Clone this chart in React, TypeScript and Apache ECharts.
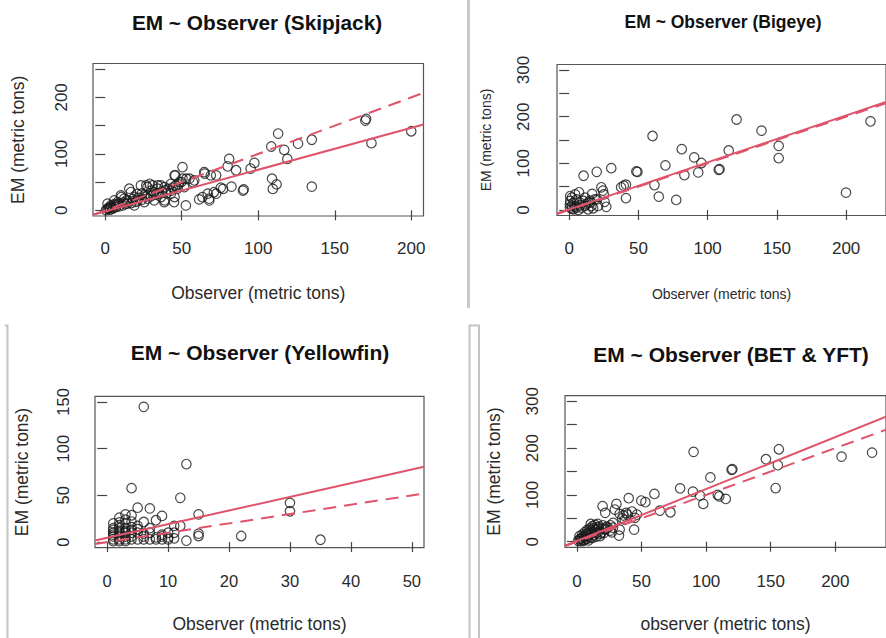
import React, { useEffect, useRef } from "react";
import * as echarts from "echarts";

const FONT = '"Liberation Sans", Arial, Helvetica, sans-serif';
const RED = "#DF536B";

// ---- Skipjack ----
const skjObs = [113, 108.5, 117, 126, 135, 119, 170, 170.5, 174, 200, 135, 109, 112, 109.5, 97.5, 95, 81, 80, 85.5, 90, 90.5, 82.5, 75.5, 72.5, 65, 72.5, 67, 63.5, 68, 71, 77, 64.7, 69, 61.4, 67.9,
  50.5, 45.8, 50.5, 55, 58.2, 53, 57.3, 49.7, 15.7, 23.3, 27.6, 31, 36.4, 39.6, 42.9, 47.3, 51.6, 32, 25.5, 19, 12.4, 5.9, 1.5, 3.7, 8, 14.6, 21.1, 25.5, 32, 38.6, 45, 52.7, 36.4, 27.6, 16.8, 10.2, 1.5, 4.8, 0.5, 7, 11.4, 19, 34.2, 42.9, 48.4, 21, 26.8, 29, 34.4, 38.8, 45.3, 45.3, 38.8, 10.5, 4, 1.7, 6, 2.5, 3, 5, 8, 9, 12, 13, 15, 17, 18, 20, 22, 24, 26, 28, 30, 33, 35, 37, 40, 41, 44, 46, 48, 43, 30, 24, 14, 9, 6, 3];
const skjEM = [136, 113, 107, 118, 125, 91, 159, 162, 119, 140, 42, 56, 46, 38, 84, 74, 91, 78, 71, 35, 37, 42, 40, 62, 65, 29.5, 29.5, 23.5, 17.5, 32, 38, 67.7, 62, 19.4, 20.6,
  76.6, 61.8, 56, 56, 53, 56, 50, 50, 38.3, 44.2, 41.2, 44.2, 44.2, 35.3, 29.5, 38.3, 41.2, 32.4, 26.5, 23.6, 20.6, 17.7, 11.8, 8.8, 14.7, 11.8, 17.7, 14.7, 17.7, 14.7, 14.7, 8.8, 23.6, 20.6, 32.4, 26.5, 2.9, 2.9, 0.5, 5.9, 8.8, 8.8, 38.3, 47, 50, 29, 44, 47, 44, 41, 62, 23.6, 17.7, 23.6, 6, 3, 8.8, 5, 1, 4, 10, 7, 14, 11, 16, 13, 20, 15, 22, 19, 24, 27, 25, 28, 30, 33, 30, 38, 40, 44, 46, 35, 35, 30, 18, 12, 11, 4];
const skjFit = [-2, 0.74];
const skjXTicks = [0, 50, 100, 150, 200];
const skjYTicks = [0, 50, 100, 150, 200, 250];
const skjYLabels = [0, 100, 200];

// ---- Bigeye ----
const betObs = [120.9, 138.9, 217.6, 60.2, 81.3, 90.3, 95.5, 115.2, 151.3, 151.3, 69.5, 49.3, 48.5, 108.6, 108, 83.2, 93.2, 61.6, 64.7, 77.3, 199.9, 10.4, 19.9, 30.4, 39.4, 41, 37.5, 41, 23.2, 24.4, 16.6, 7.1, 26.8, 25.6, 17.3, 4.3, 0.7, 1.9, 5.4, 11.4, 13.7, 9, 0.5, 3.1, 6.6, 11.4, 18.5, 20.9, 13.7, 0.7, 4.3, 0.5, 1.9, 3.1, 7.8, 5.4, 16.1, 10.2, 2, 8, 12, 15, 25, 15.5, 20.2];
const betEM = [194, 170, 190, 158.6, 130.3, 112.6, 100.6, 127.5, 137.4, 111.3, 95.6, 81.5, 82.5, 87.4, 86, 74.7, 80.4, 53.3, 28.5, 21.4, 37, 73.3, 81.8, 89.6, 52, 54, 48.5, 25.3, 48.5, 41.4, 34.3, 37.8, 6.7, 17.3, 3.5, 8, 19.1, 26.2, 22.6, 26.2, 15.6, 5, 5, 1.4, 0, 8.5, 22.6, 8.5, 1.4, 29.7, 33.3, 12, 8.5, 15.6, 15.6, 5, 8.5, 19.1, 3, 10, 12, 20, 33.3, 15.6, 22.6];
const betFit = [1.5, 1.005];
const betXTicks = [0, 50, 100, 150, 200];
const betYTicks = [0, 50, 100, 150, 200, 250, 300];
const betYLabels = [0, 100, 200, 300];

// ---- Yellowfin ----
const yftObs = [6, 13, 4, 12, 15, 30, 30, 35, 22, 13, 15, 15, 11, 12, 9, 8, 7, 5, 4, 3, 2, 6, 5, 5,
  1, 2, 3, 4, 5, 6, 7, 8, 9, 10, 1, 2, 3, 1, 2, 3, 4, 6, 8, 10, 1, 2, 3, 4, 5, 6, 7, 9, 1, 2, 3, 4, 1, 2, 3, 4, 2, 3, 1, 1, 7, 9, 11, 10, 4, 3, 2, 11];
const yftEM = [144.7, 83.5, 57.7, 47.4, 29.7, 42, 33, 2.5, 6.5, 1.5, 9, 6.5, 17.3, 17.3, 28, 23.4, 36, 36.8, 28.7, 29.7, 26.2, 21.5, 17.3, 13.8,
  3, 3, 3, 3, 3, 3, 3, 3, 3, 3, 1, 1, 1, 6, 6, 6, 6, 6, 5, 5, 10, 10, 10, 10, 10, 9, 10, 8, 15, 15, 15, 13, 20, 18, 20, 22, 12, 12, 8, 13, 15, 6, 4, 10, 16, 24, 21, 10];
const yftFit = [4.6, 1.46];
const yftXTicks = [0, 10, 20, 30, 40, 50];
const yftYTicks = [0, 50, 100, 150];
const yftYLabels = [0, 50, 100, 150];

// ---- BET & YFT ----
const bothObs = [90.3, 156.3, 146.3, 155.5, 153.8, 204.8, 228.4, 119.7, 120.3, 103.3, 79.9, 89.8, 95.3, 97.8, 109, 110.2, 115.2, 60, 49.8, 53, 40.1, 30.6, 19.9, 21.9, 29.4, 33.1, 38.1, 42.6, 64.2, 72.4, 44.3, 32.6, 33.1, 25.7, 10.7,
  1, 2, 3, 4, 5, 6, 7, 8, 9, 10, 11, 12, 13, 14, 15, 16, 17, 18, 19, 20, 21, 22, 23, 2, 4, 6, 8, 10, 12, 14, 16, 3, 5, 7, 9, 11, 13, 15, 17, 19, 5, 8, 12, 15, 18, 21, 24, 26, 28, 36, 39, 35, 27, 46.5, 45, 37, 28];
const bothEM = [192, 197.5, 176.2, 163.5, 114.6, 181.9, 190.4, 153.5, 155, 137.3, 114, 106.9, 98.4, 80.7, 99.8, 97, 91.3, 102, 87.9, 84.4, 92.9, 80.7, 75.8, 61.6, 68.7, 59.5, 61.6, 64.4, 66.5, 62.9, 25.8, 13, 25.8, 23.6, 37.8,
  2, 5, 1, 8, 4, 10, 6, 12, 3, 15, 9, 20, 14, 25, 18, 30, 22, 12, 28, 35, 19, 26, 32, 12, 15, 20, 25, 28, 33, 36, 38, 6, 12, 16, 20, 24, 29, 26, 32, 20, 2, 6, 8, 11, 16, 28, 30, 35, 40, 56, 58, 50, 20, 58, 51, 47, 30];
const bothFit = [1.5, 1.11];
const bothXTicks = [0, 50, 100, 150, 200];
const bothYTicks = [0, 50, 100, 150, 200, 250, 300];
const bothYLabels = [0, 100, 200, 300];

const identity = [0, 1];

const panels = [
  {
    title: "EM ~ Observer (Skipjack)", obs: skjObs, em: skjEM, fit: skjFit,
    xTicks: skjXTicks, xLabels: skjXTicks, yTicks: skjYTicks, yLabels: skjYLabels,
    xName: "Observer (metric tons)", yName: "EM (metric tons)",
    xr: [-8, 208], yr: [-10, 260],
    grid: { left: 93, top: 63.5, width: 330.5, height: 152.5 },
    t: [257, 22.7, 20.8], xm: 23.5, ym: 23.5, xg: 68, yg: 66, ns: 17.5, ts: 17,
  },
  {
    title: "EM ~ Observer (Bigeye)", obs: betObs, em: betEM, fit: betFit,
    xTicks: betXTicks, xLabels: betXTicks, yTicks: betYTicks, yLabels: betYLabels,
    xName: "Observer (metric tons)", yName: "EM (metric tons)",
    xr: [-8.8, 228.8], yr: [-12, 312],
    grid: { left: 557, top: 64.5, width: 334, height: 151 },
    t: [723, 21.7, 17.5], xm: 24.5, ym: 25.5, xg: 71, yg: 63.7, ns: 14, ts: 17,
  },
  {
    title: "EM ~ Observer (Yellowfin)", obs: yftObs, em: yftEM, fit: yftFit,
    xTicks: yftXTicks, xLabels: yftXTicks, yTicks: yftYTicks, yLabels: yftYLabels,
    xName: "Observer (metric tons)", yName: "EM (metric tons)",
    xr: [-2, 52], yr: [-6, 156],
    grid: { left: 95, top: 396.3, width: 329, height: 151.4 },
    t: [260, 352.3, 21], xm: 24.5, ym: 23.5, xg: 67.5, yg: 64.5, ns: 17.5, ts: 16.5,
  },
  {
    title: "EM ~ Observer (BET & YFT)", obs: bothObs, em: bothEM, fit: bothFit,
    xTicks: bothXTicks, xLabels: bothXTicks, yTicks: bothYTicks, yLabels: bothYLabels,
    xName: "observer (metric tons)", yName: "EM (metric tons)",
    xr: [-9.2, 239.2], yr: [-12, 312],
    grid: { left: 565, top: 395.7, width: 333, height: 151.6 },
    t: [731, 354, 21], xm: 26, ym: 24.5, xg: 68, yg: 62.5, ns: 17.5, ts: 17,
  },
];

function buildOption() {
  const grid: any[] = [];
  const xAxis: any[] = [];
  const yAxis: any[] = [];
  const series: any[] = [];
  const graphic: any[] = [];

  panels.forEach((p, i) => {
    grid.push({
      ...p.grid,
      show: true,
      borderColor: "#555",
      borderWidth: 1.2,
      backgroundColor: "transparent",
      containLabel: false,
    });
    xAxis.push({
      type: "value",
      gridIndex: i,
      min: p.xr[0],
      max: p.xr[1],
      axisLine: { show: false },
      splitLine: { show: false },
      axisTick: { show: true, length: 10, customValues: p.xTicks, lineStyle: { color: "#444", width: 1.2 } },
      axisLabel: { customValues: p.xLabels, fontSize: p.ts, margin: p.xm, color: "#2a2a2a", fontFamily: FONT },
      name: p.xName,
      nameLocation: "middle",
      nameGap: p.xg,
      nameTextStyle: { fontSize: p.ns, color: "#2a2a2a", fontFamily: FONT },
    });
    yAxis.push({
      type: "value",
      gridIndex: i,
      min: p.yr[0],
      max: p.yr[1],
      axisLine: { show: false },
      splitLine: { show: false },
      axisTick: { show: true, length: 10, customValues: p.yTicks, lineStyle: { color: "#444", width: 1.2 } },
      axisLabel: { customValues: p.yLabels, fontSize: p.ts, margin: p.ym, color: "#2a2a2a", fontFamily: FONT, rotate: 90 },
      name: p.yName,
      nameLocation: "middle",
      nameGap: p.yg,
      nameTextStyle: { fontSize: p.ns, color: "#2a2a2a", fontFamily: FONT },
    });
    series.push({
      type: "scatter",
      xAxisIndex: i,
      yAxisIndex: i,
      data: p.obs.map((x, k) => [x, p.em[k]]),
      symbol: "circle",
      symbolSize: 9.5,
      itemStyle: { color: "rgba(0,0,0,0)", borderColor: "#1a1a1a", borderWidth: 1.2 },
      silent: true,
    });
    const lineData = (f: number[]) => [
      [p.xr[0], f[0] + f[1] * p.xr[0]],
      [p.xr[1], f[0] + f[1] * p.xr[1]],
    ];
    series.push({
      type: "line",
      xAxisIndex: i,
      yAxisIndex: i,
      data: lineData(identity),
      symbol: "none",
      clip: true,
      lineStyle: { color: RED, width: 2, type: [13, 8] },
      silent: true,
    });
    series.push({
      type: "line",
      xAxisIndex: i,
      yAxisIndex: i,
      data: lineData(p.fit),
      symbol: "none",
      clip: true,
      lineStyle: { color: RED, width: 2, type: "solid" },
      silent: true,
    });
    graphic.push({
      type: "text",
      x: p.t[0],
      y: p.t[1],
      style: {
        text: p.title,
        fontSize: p.t[2],
        fontWeight: "bold",
        fontFamily: FONT,
        fill: "#111",
        align: "center",
        verticalAlign: "middle",
      },
    });
  });

  graphic.push(
    { type: "line", shape: { x1: 468.5, y1: 0, x2: 468.5, y2: 308 }, style: { stroke: "#c8c8c8", lineWidth: 3 } },
    { type: "polyline", shape: { points: [[5, 325.5], [7.5, 325.5], [7.5, 640]] }, style: { stroke: "#c4c4c4", lineWidth: 2, fill: null } },
    { type: "polyline", shape: { points: [[469.5, 640], [469.5, 325.5], [479, 325.5], [479, 640]] }, style: { stroke: "#c4c4c4", lineWidth: 2, fill: null } }
  );

  return {
    animation: false,
    backgroundColor: "#ffffff",
    grid,
    xAxis,
    yAxis,
    series,
    graphic,
  };
}

export default function App() {
  const ref = useRef<HTMLDivElement>(null);
  useEffect(() => {
    if (!ref.current) return;
    const chart = echarts.init(ref.current, null, { renderer: "svg" });
    chart.setOption(buildOption() as any);
    return () => chart.dispose();
  }, []);
  return (
    <div
      ref={ref}
      style={{ position: "absolute", left: 0, top: 0, width: 886, height: 638, overflow: "hidden" }}
    />
  );
}
